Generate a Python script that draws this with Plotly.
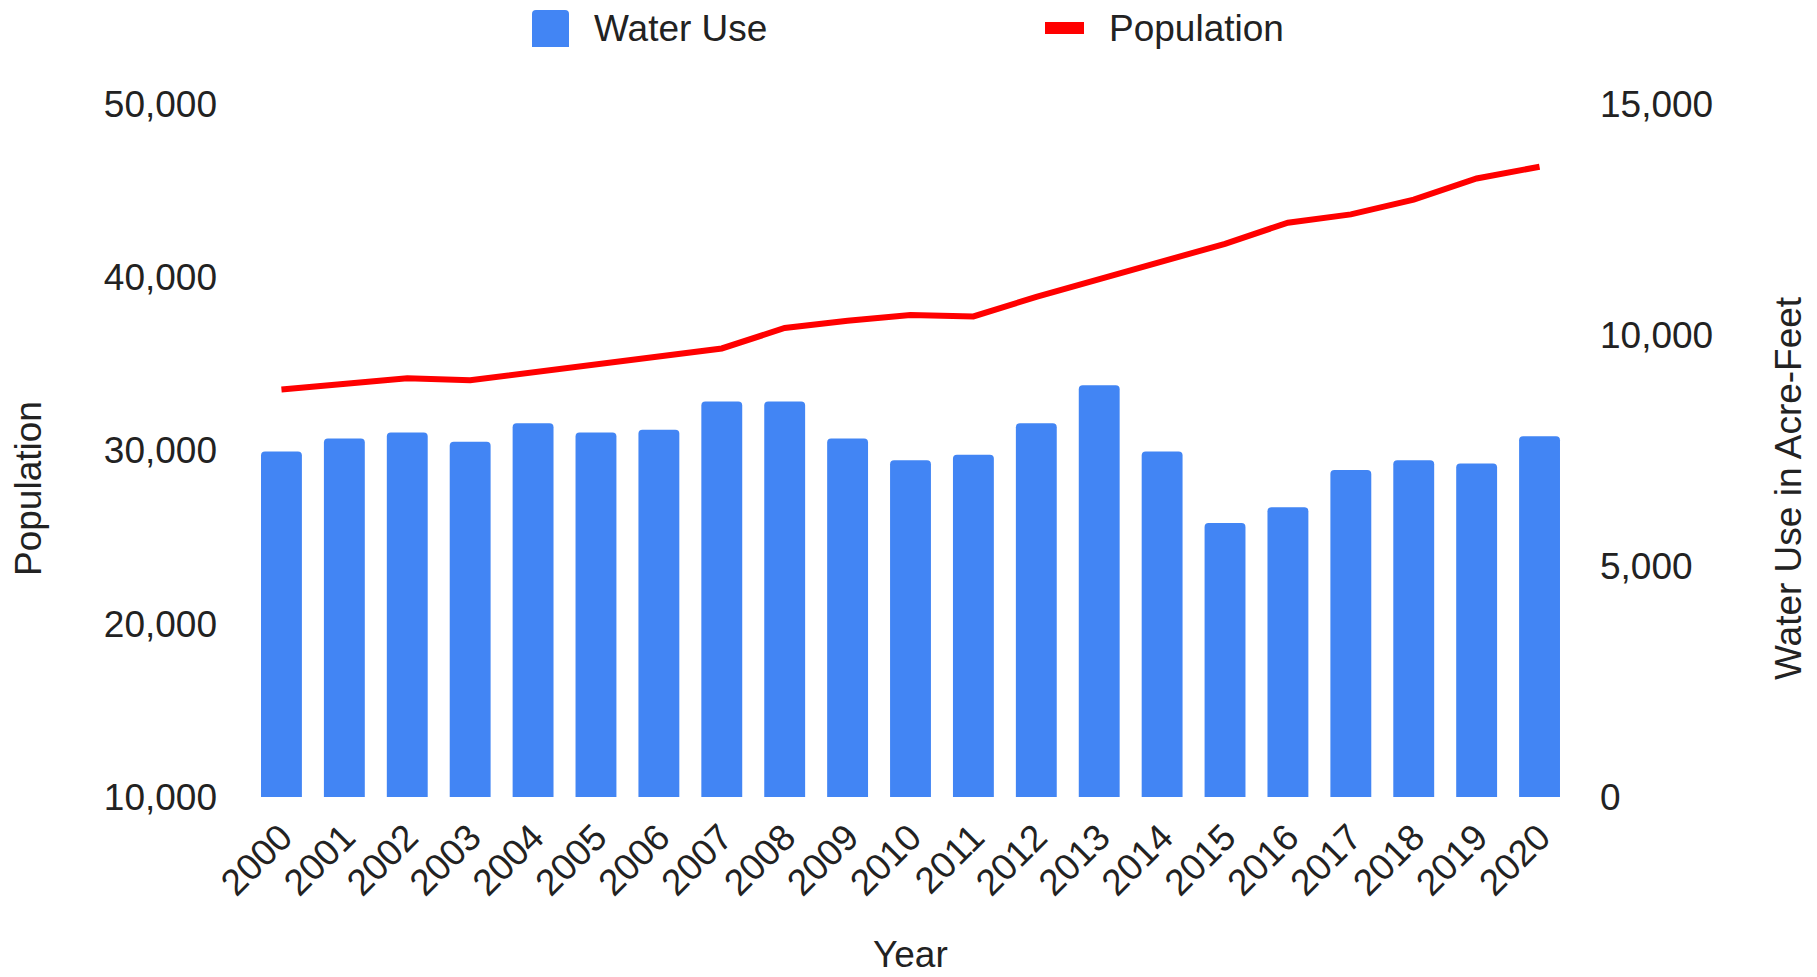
import plotly.graph_objects as go

# Annual figures
years = ["2000", "2001", "2002", "2003", "2004", "2005", "2006", "2007", "2008", "2009",
         "2010", "2011", "2012", "2013", "2014", "2015", "2016", "2017", "2018", "2019", "2020"]
water_use = [7480, 7760, 7890, 7690, 8090, 7890, 7950, 8560, 8560, 7760,
             7290, 7410, 8090, 8910, 7480, 5930, 6270, 7080, 7290, 7220, 7810]
population = [33520, 33870, 34170, 34050, 34520, 34920, 35420, 35890, 37070, 37490,
              37820, 37740, 38870, 39890, 40910, 41930, 43150, 43630, 44480, 45700, 46380]

pop_ticks = [10000, 20000, 30000, 40000, 50000]
water_ticks = [0, 5000, 10000, 15000]

FONT = "Arial, 'Liberation Sans', sans-serif"
TXT = "#222222"
BLUE = "#4285F4"
RED = "#FF0000"
FS = 37

W, H = 1817, 977
ML, MR, MT, MB = 250, 246, 104, 180

fig = go.Figure()

fig.add_trace(go.Bar(
    x=years, y=water_use, name="Water Use",
    marker=dict(color=BLUE, line=dict(width=0)),
    yaxis="y", showlegend=False,
))
fig.add_trace(go.Scatter(
    x=years, y=population, name="Population", mode="lines",
    line=dict(color=RED, width=6),
    yaxis="y2", showlegend=False,
))

# Legend keys drawn in pixels relative to the plot's top-left corner
sq_x0, sq_x1, sq_y0, sq_y1, r = 282, 319, 57, 94, 4
square_path = (
    f"M{sq_x0 + r},{sq_y1} L{sq_x1 - r},{sq_y1} Q{sq_x1},{sq_y1} {sq_x1},{sq_y1 - r} "
    f"L{sq_x1},{sq_y0} L{sq_x0},{sq_y0} L{sq_x0},{sq_y1 - r} Q{sq_x0},{sq_y1} {sq_x0 + r},{sq_y1} Z"
)
shapes = [
    dict(type="path", xref="paper", yref="paper", xsizemode="pixel", ysizemode="pixel",
         xanchor=0, yanchor=1, path=square_path, fillcolor=BLUE, line=dict(width=0)),
    dict(type="rect", xref="paper", yref="paper", xsizemode="pixel", ysizemode="pixel",
         xanchor=0, yanchor=1, x0=795, x1=834, y0=70, y1=82,
         fillcolor=RED, line=dict(width=0)),
]

plot_w = W - ML - MR
plot_h = H - MT - MB
def px_x(p):
    return (p - ML) / plot_w
def px_y(p):
    return (H - MB - p) / plot_h

label_font = dict(family=FONT, size=FS, color=TXT)
annotations = [
    # legend texts
    dict(text="Water Use", x=px_x(592), y=px_y(28), xref="paper", yref="paper",
         xanchor="left", yanchor="middle", showarrow=False, font=label_font),
    dict(text="Population", x=px_x(1107), y=px_y(28), xref="paper", yref="paper",
         xanchor="left", yanchor="middle", showarrow=False, font=label_font),
    # axis titles
    dict(text="Population", x=px_x(28), y=px_y(488), xref="paper", yref="paper",
         xanchor="center", yanchor="middle", textangle=-90, showarrow=False, font=label_font),
    dict(text="Water Use in Acre-Feet", x=px_x(1788), y=px_y(488), xref="paper", yref="paper",
         xanchor="center", yanchor="middle", textangle=-90, showarrow=False, font=label_font),
    dict(text="Year", x=0.5, y=px_y(954), xref="paper", yref="paper",
         xanchor="center", yanchor="middle", showarrow=False, font=label_font),
]

fig.update_layout(
    width=W, height=H,
    margin=dict(l=ML, r=MR, t=MT, b=MB, pad=0),
    paper_bgcolor="white", plot_bgcolor="white",
    font=dict(family=FONT, size=FS, color=TXT),
    bargap=0.35,
    barcornerradius=4,
    showlegend=False,
    shapes=shapes,
    annotations=annotations,
    xaxis=dict(
        type="category", tickangle=-45, showgrid=False, zeroline=False, showline=False,
        ticks="", tickfont=dict(size=FS, color=TXT), automargin=False,
        ticklabelstandoff=10,
    ),
    yaxis=dict(
        side="right", range=[0, 15000], tickvals=water_ticks, tickformat=",d",
        showgrid=False, zeroline=False, showline=False, ticks="",
        ticklabelstandoff=28, automargin=False,
        tickfont=dict(size=FS, color=TXT),
    ),
    yaxis2=dict(
        side="left", overlaying="y", range=[10000, 50000], tickvals=pop_ticks, tickformat=",d",
        showgrid=False, zeroline=False, showline=False, ticks="",
        ticklabelstandoff=32, automargin=False,
        tickfont=dict(size=FS, color=TXT),
    ),
)

fig.write_html("out.html")
